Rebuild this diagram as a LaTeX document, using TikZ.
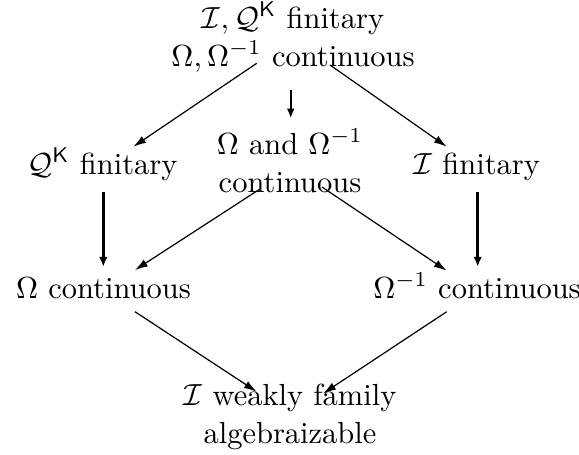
\documentclass[tikz,border=0pt]{standalone}
\usetikzlibrary{arrows.meta}
\renewcommand{\arraystretch}{1.04}
\begin{document}
\begin{tikzpicture}[x=0.3279pt,y=-0.3279pt,
  lbl/.style={anchor=base, inner sep=0pt, outer sep=0pt},
  thinarrow/.style={-{Latex[length=4.2pt,width=2.6pt]}, line width=0.4pt},
  midarrow/.style={-{Latex[length=3.2pt,width=2.6pt]}, line width=0.7pt},
  thickarrow/.style={-{Latex[length=3.2pt,width=2.8pt]}, line width=1.1pt}]
\useasboundingbox (0,0) rectangle (579,454);
% labels
\node[lbl] (top) at (293,28) {\begin{tabular}[t]{@{}c@{}}$\mathcal{I},\mathcal{Q}^{\mathsf{K}}$ finitary\\ $\Omega,\Omega^{-1}$ continuous\end{tabular}};
\node[lbl] (qk) at (102.5,174) {$\mathcal{Q}^{\mathsf{K}}$ finitary};
\node[lbl] (mid) at (290,154) {\begin{tabular}[t]{@{}c@{}}$\Omega$ and $\Omega^{-1}$\\ continuous\end{tabular}};
\node[lbl] (ifin) at (476.7,174) {$\mathcal{I}$ finitary};
\node[lbl] (omc) at (103.5,298) {$\Omega$ continuous};
\node[lbl] (omic) at (477,298) {$\Omega^{-1}$ continuous};
\node[lbl] (bot) at (290,405) {\begin{tabular}[t]{@{}c@{}}$\mathcal{I}$ weakly family\\ algebraizable\end{tabular}};
% connector end points
\coordinate (a1s) at (256.7,63.3);  \coordinate (a1e) at (133.3,146.7);
\coordinate (a2s) at (330,65);      \coordinate (a2e) at (446.7,146.7);
\coordinate (a3s) at (290.7,90);    \coordinate (a3e) at (290.7,118.3);
\coordinate (a4s) at (103.3,191.7); \coordinate (a4e) at (103.3,266.7);
\coordinate (a5s) at (477.7,191.7); \coordinate (a5e) at (477.7,266.7);
\coordinate (a6s) at (260,189);     \coordinate (a6e) at (135,270);
\coordinate (a7s) at (322,187);     \coordinate (a7e) at (446.7,270.7);
\coordinate (a8s) at (135,311.7);   \coordinate (a8e) at (256.7,391.7);
\coordinate (a9s) at (446.7,311.7); \coordinate (a9e) at (323.3,393.3);
% connectors
\draw[thinarrow] (a1s) -- (a1e);
\draw[thinarrow] (a2s) -- (a2e);
\draw[midarrow] (a3s) -- (a3e);
\draw[thickarrow] (a4s) -- (a4e);
\draw[thickarrow] (a5s) -- (a5e);
\draw[thinarrow] (a6s) -- (a6e);
\draw[thinarrow] (a7s) -- (a7e);
\draw[thinarrow] (a8s) -- (a8e);
\draw[thinarrow] (a9s) -- (a9e);
\end{tikzpicture}
\end{document}
